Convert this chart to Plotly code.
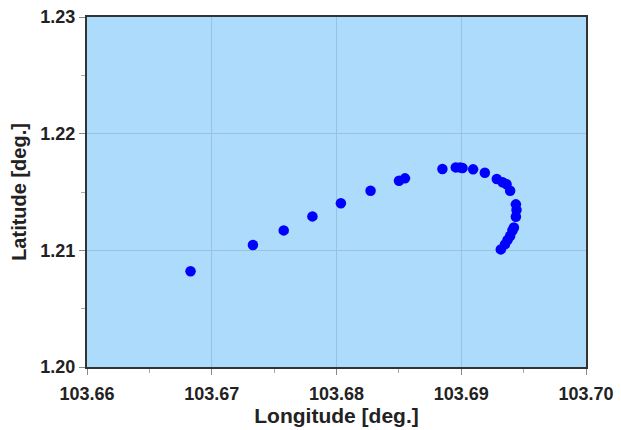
import plotly.graph_objects as go

lon = [103.6683, 103.6733, 103.67577, 103.67807, 103.68035, 103.68273, 103.68501, 103.68549,
       103.68849, 103.68956, 103.6899, 103.69010, 103.69095, 103.69189, 103.69285, 103.69331,
       103.69363, 103.69392, 103.69438, 103.69443, 103.69438, 103.69422, 103.69410, 103.69392,
       103.69371, 103.6935, 103.69317]
lat = [1.2082, 1.21045, 1.21171, 1.21291, 1.21403, 1.21511, 1.21597, 1.21617,
       1.21697, 1.21711, 1.21711, 1.21706, 1.21694, 1.21665, 1.21611, 1.21583,
       1.21566, 1.21511, 1.21394, 1.21345, 1.21288, 1.21196, 1.21170, 1.21123,
       1.21088, 1.21051, 1.21008]

x_ticks = [103.66, 103.67, 103.68, 103.69, 103.70]
x_labels = ["103.66", "103.67", "103.68", "103.69", "103.70"]
y_ticks = [1.20, 1.21, 1.22, 1.23]
y_labels = ["1.20", "1.21", "1.22", "1.23"]

fig = go.Figure(go.Scatter(x=lon, y=lat, mode="markers",
                           marker=dict(color="#0000FF", size=10.5, line=dict(width=0)),
                           showlegend=False))

axfont = dict(family="Liberation Sans, Arial", size=18, color="#222222", weight="bold")
xtitlefont = dict(family="Liberation Sans, Arial", size=21, color="#222222", weight="bold")
ytitlefont = dict(family="Liberation Sans, Arial", size=20, color="#222222", weight="bold")

fig.update_layout(
    width=621, height=430,
    margin=dict(l=87, r=35, t=17, b=63),
    paper_bgcolor="white", plot_bgcolor="#ADDBFC",
    xaxis=dict(range=[103.66, 103.70], tickvals=x_ticks, ticktext=x_labels,
               ticks="outside", ticklen=6, tickcolor="#888888", tickfont=axfont,
               ticklabelstandoff=3,
               showgrid=True, gridcolor="#97C3E0", gridwidth=1, zeroline=False,
               showline=True, linecolor="#333333", linewidth=2, mirror=True,
               automargin=False,
               minor=dict(dtick=0.005, tick0=103.66, ticks="outside", ticklen=4,
                          tickcolor="#AAAAAA", showgrid=False),
               title=dict(text="Longitude [deg.]", font=xtitlefont, standoff=0)),
    yaxis=dict(range=[1.20, 1.23], tickvals=y_ticks, ticktext=y_labels,
               ticks="outside", ticklen=6, tickcolor="#888888", tickfont=axfont,
               showgrid=True, gridcolor="#97C3E0", gridwidth=1, zeroline=False,
               showline=True, linecolor="#333333", linewidth=2, mirror=True,
               automargin=False,
               minor=dict(dtick=0.005, tick0=1.20, ticks="outside", ticklen=4,
                          tickcolor="#AAAAAA", showgrid=False),
               title=dict(text="Latitude [deg.]", font=ytitlefont, standoff=8)),
)

fig.write_html("out.html", config={"displayModeBar": False},
               post_script="document.body.style.margin='0px';")
